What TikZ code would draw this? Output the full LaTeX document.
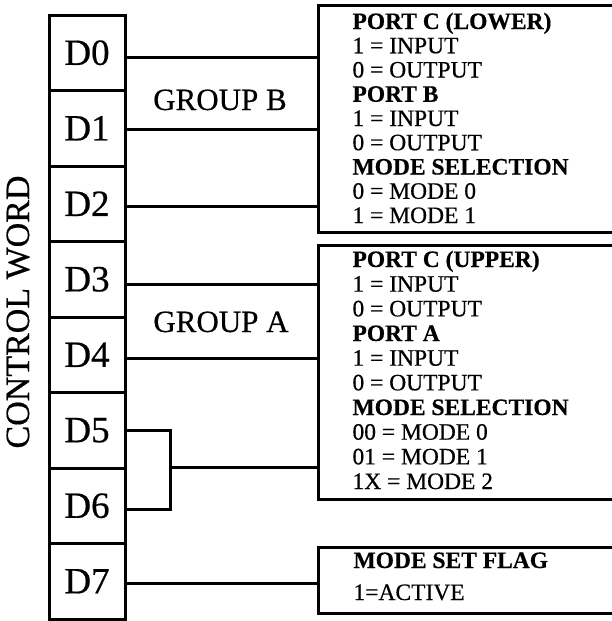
\documentclass[tikz,border=0pt]{standalone}
\usepackage{fontspec}
\setmainfont{Liberation Serif}[UprightFeatures={FakeBold=0.5},BoldFeatures={FakeBold=0.4}]
\begin{document}
\begin{tikzpicture}[x=1pt,y=-1pt,line width=3pt,
  cell/.style={draw,rectangle,minimum width=76pt,minimum height=75.5pt,inner sep=0pt,outer sep=0pt,font=\fontsize{37}{37}\selectfont},
  portbox/.style={draw,rectangle,inner sep=0pt,outer sep=0pt,anchor=north west,minimum width=400pt},
  ptxt/.style={anchor=base west,inner sep=0pt,font=\fontsize{23.5}{24}\selectfont},
  grp/.style={anchor=base,inner sep=0pt,font=\fontsize{31}{31}\selectfont},
  wire/.style={line width=3pt}]
\useasboundingbox (0,0) rectangle (611,621);
% control word cells
\foreach \i in {0,...,7}{
  \node[cell] (D\i) at (87,{15+75.5*(\i+0.5)}) {D\i};
}
\node[anchor=base,rotate=90,inner sep=0pt,font=\fontsize{34}{34}\selectfont] (cw) at (29,312) {CONTROL WORD};
% boxes
\node[portbox,minimum height=227pt] (box1) at (318,5) {};
\node[portbox,minimum height=254pt] (box2) at (318,245) {};
\node[portbox,minimum height=66pt] (box3) at (318,547) {};
% group labels
\node[grp] (gb) at (220,110) {GROUP B};
\node[grp] (ga) at (221,332) {GROUP A};
% connector coordinates
\coordinate (c0) at (318,57);
\coordinate (c1) at (318,129);
\coordinate (c2) at (318,206);
\coordinate (c3) at (318,284);
\coordinate (c4) at (318,358);
\coordinate (c56) at (318,467);
\coordinate (c7) at (318,583);
\coordinate (k5) at (170,430);
\coordinate (k6) at (170,509);
\coordinate (k56) at (170,467);
\draw[wire] (D0.east |- c0) -- (c0);
\draw[wire] (D1.east |- c1) -- (c1);
\draw[wire] (D2.east |- c2) -- (c2);
\draw[wire] (D3.east |- c3) -- (c3);
\draw[wire] (D4.east |- c4) -- (c4);
\draw[wire] (D5.east |- k5) -- (k5) -- (k6) -- (D6.east |- k6);
\draw[wire] (k56) -- (c56);
\draw[wire] (D7.east |- c7) -- (c7);
% box 1 text
\node[ptxt] (t10) at (351,29) {\textbf{PORT C (LOWER)}};
\node[ptxt] (t11) at (351,53.25) {1 = INPUT};
\node[ptxt] (t12) at (351,77.5) {0 = OUTPUT};
\node[ptxt] (t13) at (351,101.75) {\textbf{PORT B}};
\node[ptxt] (t14) at (351,126) {1 = INPUT};
\node[ptxt] (t15) at (351,150.25) {0 = OUTPUT};
\node[ptxt] (t16) at (351,174.5) {\textbf{MODE SELECTION}};
\node[ptxt] (t17) at (351,198.75) {0 = MODE 0};
\node[ptxt] (t18) at (351,223) {1 = MODE 1};
% box 2 text
\node[ptxt] (t20) at (351,267) {\textbf{PORT C (UPPER)}};
\node[ptxt] (t21) at (351,291.67) {1 = INPUT};
\node[ptxt] (t22) at (351,316.33) {0 = OUTPUT};
\node[ptxt] (t23) at (351,341) {\textbf{PORT A}};
\node[ptxt] (t24) at (351,365.67) {1 = INPUT};
\node[ptxt] (t25) at (351,390.33) {0 = OUTPUT};
\node[ptxt] (t26) at (351,415) {\textbf{MODE SELECTION}};
\node[ptxt] (t27) at (351,439.67) {00 = MODE 0};
\node[ptxt] (t28) at (351,464.33) {01 = MODE 1};
\node[ptxt] (t29) at (351,489) {1X = MODE 2};
% box 3 text
\node[ptxt] (t30) at (352,568) {\textbf{MODE SET FLAG}};
\node[ptxt] (t31) at (352,600) {1=ACTIVE};
\end{tikzpicture}
\end{document}
